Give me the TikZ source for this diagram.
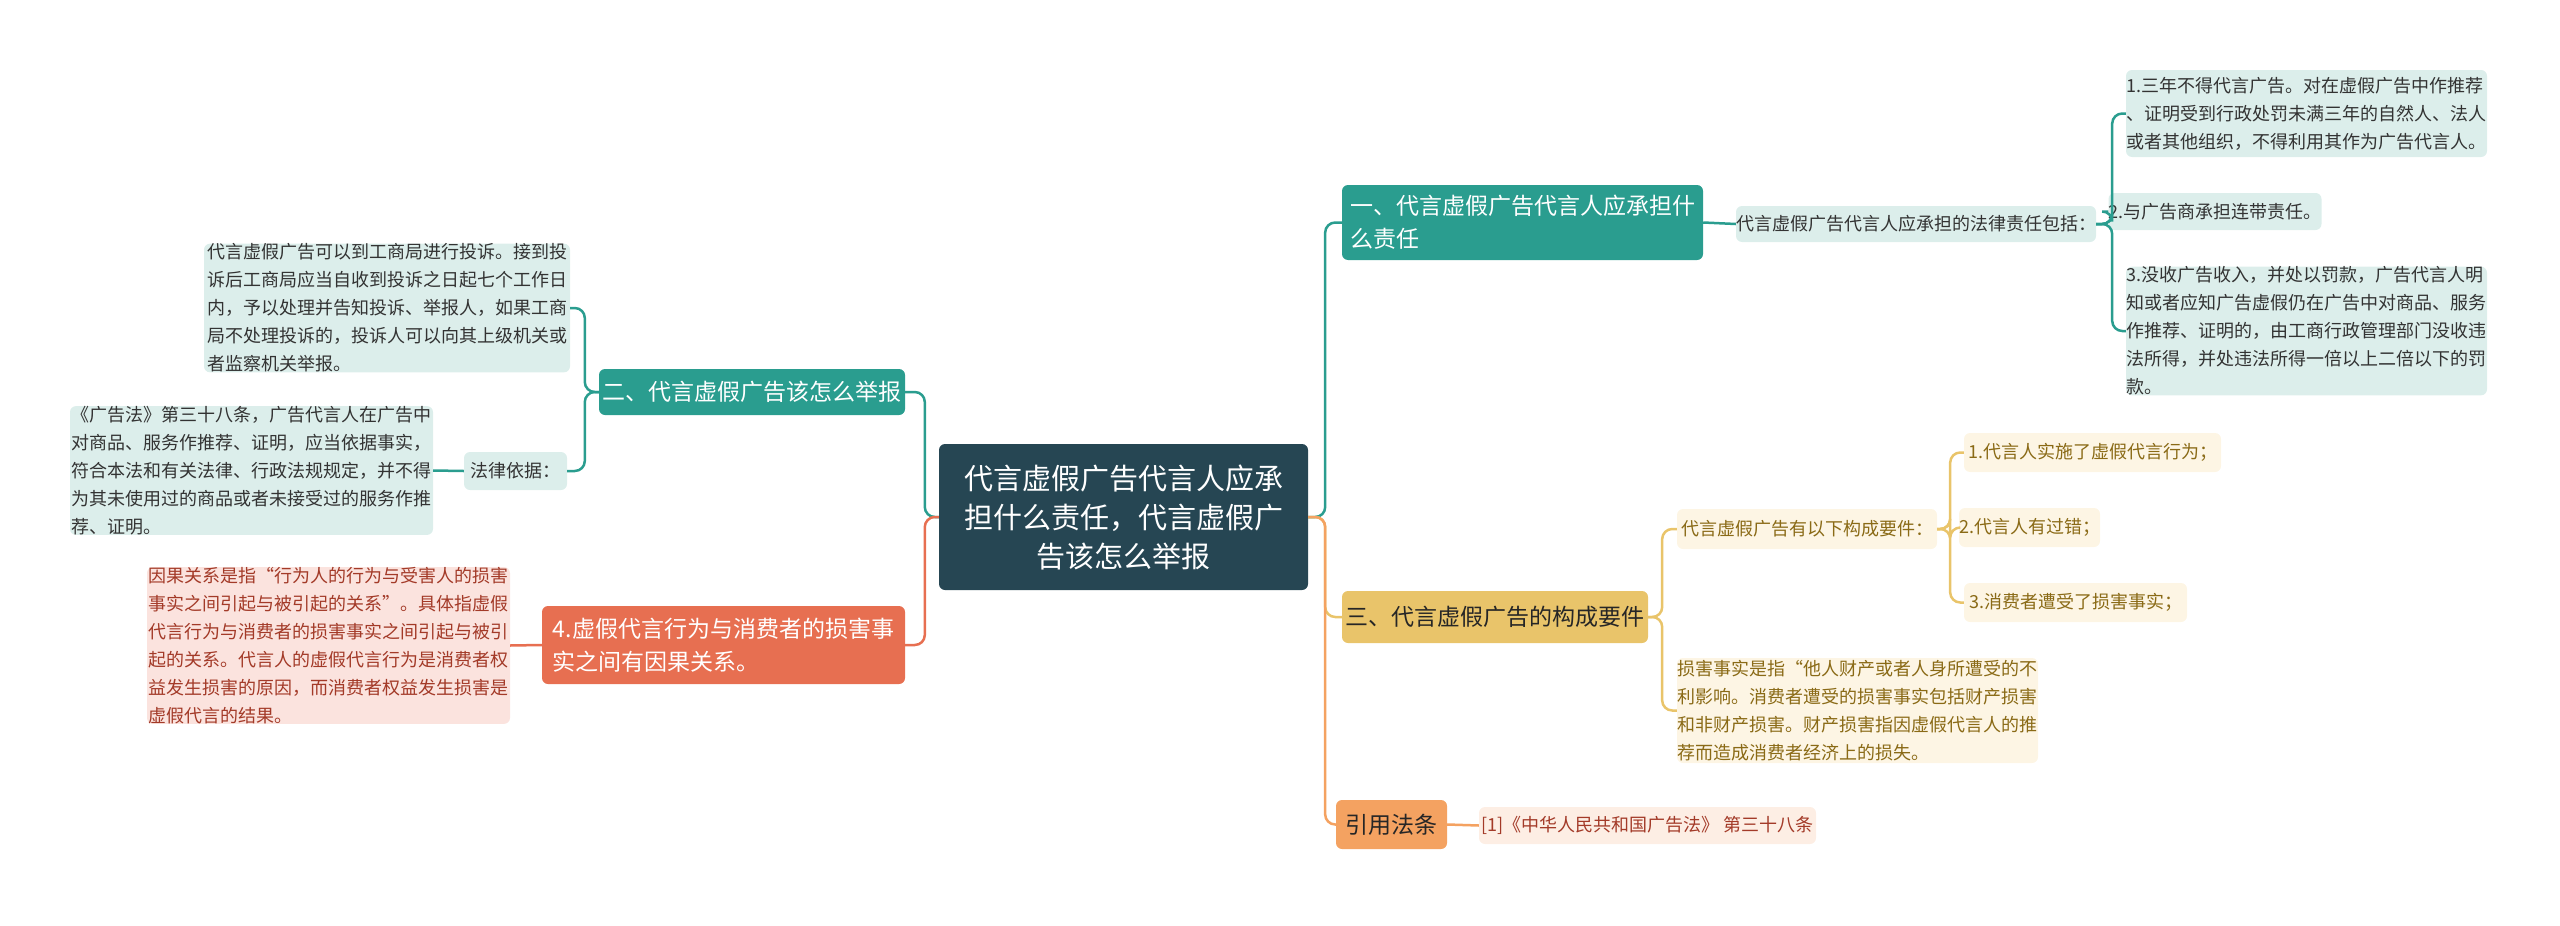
\documentclass[tikz,border=0pt]{standalone}
\usepackage{fontspec}
\setmainfont{Noto Sans CJK SC}
\definecolor{ctrc}{HTML}{264653}
\definecolor{teal}{HTML}{2A9D8F}
\definecolor{tealL}{HTML}{DCEEEB}
\definecolor{red}{HTML}{E76F51}
\definecolor{redL}{HTML}{FBE3DE}
\definecolor{yel}{HTML}{E9C46A}
\definecolor{yelL}{HTML}{FDF5E4}
\definecolor{ora}{HTML}{F4A261}
\definecolor{oraL}{HTML}{FDEEE4}
\definecolor{brn}{HTML}{8A6A16}
\definecolor{dred}{HTML}{A33A28}
\begin{document}
\begin{tikzpicture}[x=1pt,y=-1pt,
 box/.style={rounded corners=6pt,inner sep=0pt,align=left},
 big/.style={box,text=white,font=\fontsize{23}{33}\selectfont},
 sm/.style={box,font=\fontsize{18}{28}\selectfont},
 tsm/.style={sm,fill=tealL,text=black!80},
 ysm/.style={sm,fill=yelL,text=brn},
 rsm/.style={sm,fill=redL,text=dred},
 con/.style={line width=2.5pt,rounded corners=10pt}]
\useasboundingbox (0,0) rectangle (2560,926);
\node[box,fill=ctrc,text=white,align=center,minimum width=369pt,minimum height=146pt,font=\fontsize{29}{39}\selectfont] (ctr) at (1123.5,517) {代言虚假广告代言人应承\\担什么责任，代言虚假广\\告该怎么举报};
% right branch 1
\node[big,fill=teal,minimum width=361pt,minimum height=75pt] (n1) at (1522.5,222.5) {一、代言虚假广告代言人应承担什\\么责任\hspace*{210pt}};
\node[tsm,minimum width=356pt,minimum height=36pt] (law) at (1916,224) {代言虚假广告代言人应承担的法律责任包括：};
\node[tsm,minimum width=361pt,minimum height=87pt] (l1) at (2306.5,113.5) {1.三年不得代言广告。对在虚假广告中作推荐\\、证明受到行政处罚未满三年的自然人、法人\\或者其他组织，不得利用其作为广告代言人。};
\node[tsm,minimum width=178pt,minimum height=37pt] (l2) at (2215,211.5) {2.与广告商承担连带责任。};
\node[tsm,minimum width=361pt,minimum height=126pt] (l3) at (2306.5,331) {3.没收广告收入，并处以罚款，广告代言人明\\知或者应知广告虚假仍在广告中对商品、服务\\作推荐、证明的，由工商行政管理部门没收违\\法所得，并处违法所得一倍以上二倍以下的罚\\款。};
% right branch 3
\node[big,fill=yel,text=black!85,minimum width=306pt,minimum height=52pt] (n3) at (1495,617) {三、代言虚假广告的构成要件};
\node[ysm,minimum width=260pt,minimum height=40pt] (req) at (1807,529) {代言虚假广告有以下构成要件：};
\node[ysm,minimum width=257pt,minimum height=39pt] (r1) at (2092.5,452.5) {1.代言人实施了虚假代言行为；};
\node[ysm,minimum width=131pt,minimum height=39pt] (r2) at (2029.5,527.5) {2.代言人有过错；};
\node[ysm,minimum width=223pt,minimum height=39pt] (r3) at (2075.5,602.5) {3.消费者遭受了损害事实；};
\node[ysm,minimum width=361pt,minimum height=105pt] (dmg) at (1857.5,710.5) {损害事实是指“他人财产或者人身所遭受的不\\利影响。消费者遭受的损害事实包括财产损害\\和非财产损害。财产损害指因虚假代言人的推\\荐而造成消费者经济上的损失。};
% cite
\node[big,fill=ora,text=black!85,minimum width=111pt,minimum height=49pt] (cite) at (1391.5,824.5) {引用法条};
\node[sm,fill=oraL,text=dred,minimum width=337pt,minimum height=37pt] (c1) at (1647.5,825.5) {[1]《中华人民共和国广告法》 第三十八条};
% left branch 2
\node[big,fill=teal,minimum width=306pt,minimum height=46pt] (n2) at (752,392) {二、代言虚假广告该怎么举报};
\node[tsm,minimum width=366pt,minimum height=126pt] (cmp) at (387,308) {代言虚假广告可以到工商局进行投诉。接到投\\诉后工商局应当自收到投诉之日起七个工作日\\内，予以处理并告知投诉、举报人，如果工商\\局不处理投诉的，投诉人可以向其上级机关或\\者监察机关举报。};
\node[tsm,minimum width=103pt,minimum height=38pt] (bas) at (515.5,471) {法律依据：};
\node[tsm,minimum width=363pt,minimum height=127pt] (gg) at (251.5,470.5) {《广告法》第三十八条，广告代言人在广告中\\对商品、服务作推荐、证明，应当依据事实，\\符合本法和有关法律、行政法规规定，并不得\\为其未使用过的商品或者未接受过的服务作推\\荐、证明。};
% left branch 4
\node[big,fill=red,minimum width=363pt,minimum height=78pt] (n4) at (723.5,645) {4.虚假代言行为与消费者的损害事\\实之间有因果关系。};
\node[rsm,minimum width=363pt,minimum height=147pt] (cause) at (328.5,645.5) {因果关系是指“行为人的行为与受害人的损害\\事实之间引起与被引起的关系”。具体指虚假\\代言行为与消费者的损害事实之间引起与被引\\起的关系。代言人的虚假代言行为是消费者权\\益发生损害的原因，而消费者权益发生损害是\\虚假代言的结果。};
% connectors
\draw[con,teal] (ctr.east) -- ++(17,0) |- (n1.west);
\draw[con,yel] (ctr.east) -- ++(17,0) |- (n3.west);
\draw[con,ora] (ctr.east) -- ++(17,0) |- (cite.west);
\draw[con,teal] (n1.east) -- (law.west);
\draw[con,teal] (law.east) -- ++(16,0) |- (l1.west);
\draw[con,teal] (law.east) -- ++(16,0) |- (l2.west);
\draw[con,teal] (law.east) -- ++(16,0) |- (l3.west);
\draw[con,yel] (n3.east) -- ++(14,0) |- (req.west);
\draw[con,yel] (n3.east) -- ++(14,0) |- (dmg.west);
\draw[con,yel] (req.east) -- ++(13,0) |- (r1.west);
\draw[con,yel] (req.east) -- ++(13,0) |- (r2.west);
\draw[con,yel] (req.east) -- ++(13,0) |- (r3.west);
\draw[con,ora] (cite.east) -- (c1.west);
\draw[con,teal] (ctr.west) -- ++(-14,0) |- (n2.east);
\draw[con,red] (ctr.west) -- ++(-14,0) |- (n4.east);
\draw[con,teal] (n2.west) -- ++(-14,0) |- (cmp.east);
\draw[con,teal] (n2.west) -- ++(-14,0) |- (bas.east);
\draw[con,teal] (bas.west) -- (gg.east);
\draw[con,red] (n4.west) -- (cause.east);
\end{tikzpicture}
\end{document}
